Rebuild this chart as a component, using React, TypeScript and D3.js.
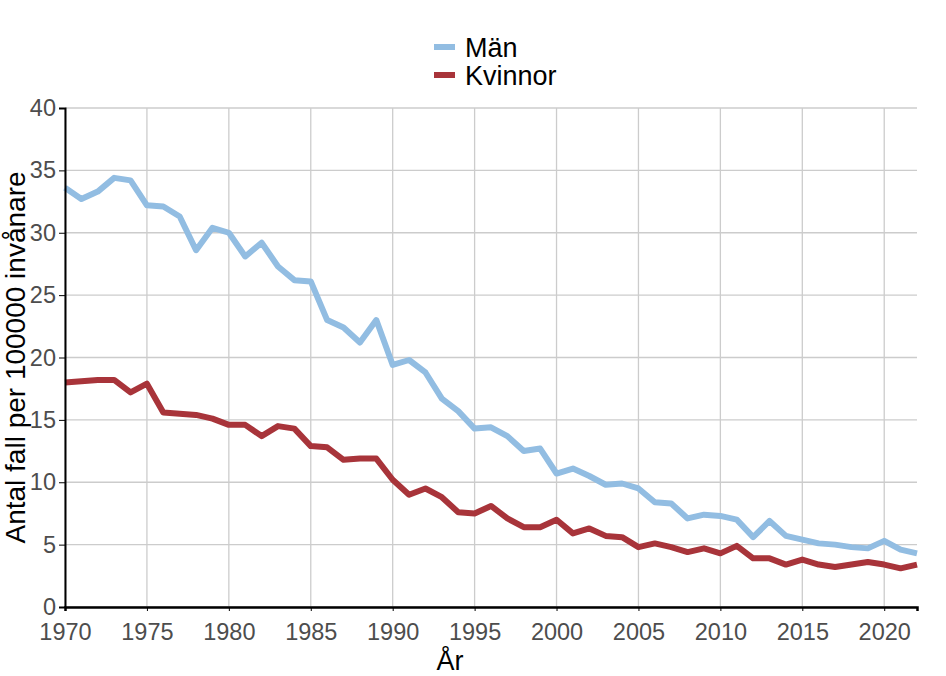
import { useRef, useEffect } from 'react'
import * as d3 from 'd3'

const years = d3.range(1970, 2023)

const man = [
  33.6, 32.7, 33.3, 34.4, 34.2, 32.2, 32.1, 31.3, 28.6, 30.4,
  30.0, 28.1, 29.2, 27.3, 26.2, 26.1, 23.0, 22.4, 21.2, 23.0,
  19.4, 19.8, 18.8, 16.7, 15.7, 14.3, 14.4, 13.7, 12.5, 12.7,
  10.7, 11.1, 10.5, 9.8, 9.9, 9.5, 8.4, 8.3, 7.1, 7.4,
  7.3, 7.0, 5.6, 6.9, 5.7, 5.4, 5.1, 5.0, 4.8, 4.7,
  5.3, 4.6, 4.3,
]

const kvinnor = [
  18.0, 18.1, 18.2, 18.2, 17.2, 17.9, 15.6, 15.5, 15.4, 15.1,
  14.6, 14.6, 13.7, 14.5, 14.3, 12.9, 12.8, 11.8, 11.9, 11.9,
  10.2, 9.0, 9.5, 8.8, 7.6, 7.5, 8.1, 7.1, 6.4, 6.4,
  7.0, 5.9, 6.3, 5.7, 5.6, 4.8, 5.1, 4.8, 4.4, 4.7,
  4.3, 4.9, 3.9, 3.9, 3.4, 3.8, 3.4, 3.2, 3.4, 3.6,
  3.4, 3.1, 3.4,
]

const xTicks = d3.range(1970, 2021, 5)
const yTicks = d3.range(0, 41, 5)

const series = [
  { name: 'Män', values: man, color: '#92bde2' },
  { name: 'Kvinnor', values: kvinnor, color: '#a8343a' },
]

const FONT = '"Liberation Sans", Arial, sans-serif'

export default function App() {
  const ref = useRef<SVGSVGElement>(null)

  useEffect(() => {
    if (!ref.current) return
    const svg = d3.select(ref.current)
    svg.selectAll('*').remove()

    const margin = { top: 108, right: 29, bottom: 69, left: 65 }
    const W = 946
    const H = 676
    const w = W - margin.left - margin.right
    const h = H - margin.top - margin.bottom

    const x = d3.scaleLinear().domain([1970, 2022]).range([0, w])
    const y = d3.scaleLinear().domain([0, 40]).range([h, 0])

    const g = svg.append('g').attr('transform', `translate(${margin.left},${margin.top})`)

    // grid
    g.append('g')
      .selectAll('line')
      .data(xTicks)
      .join('line')
      .attr('x1', (d) => x(d))
      .attr('x2', (d) => x(d))
      .attr('y1', 0)
      .attr('y2', h)
      .attr('stroke', '#cccccc')
      .attr('stroke-width', 1.3)
    g.append('g')
      .selectAll('line')
      .data(yTicks)
      .join('line')
      .attr('x1', 0)
      .attr('x2', w)
      .attr('y1', (d) => y(d))
      .attr('y2', (d) => y(d))
      .attr('stroke', '#cccccc')
      .attr('stroke-width', 1.3)

    // lines
    const line = d3
      .line<number>()
      .x((_, i) => x(years[i]))
      .y((d) => y(d))

    series.forEach((s) => {
      g.append('path')
        .datum(s.values)
        .attr('d', line)
        .attr('fill', 'none')
        .attr('stroke', s.color)
        .attr('stroke-width', 6)
        .attr('stroke-linejoin', 'round')
    })

    // axes
    const yAxis = g.append('g').call(d3.axisLeft(y).tickValues(yTicks).tickSize(6).tickPadding(3))
    yAxis.select('.domain').attr('stroke', '#000').attr('stroke-width', 2)
    yAxis.selectAll('.tick line').attr('stroke', '#000')
    yAxis.selectAll('text').attr('font-family', FONT).attr('font-size', 23.5).attr('fill', '#4d4d4d')

    const xAxis = g
      .append('g')
      .attr('transform', `translate(0,${h})`)
      .call(d3.axisBottom(x).tickValues(xTicks).tickFormat(d3.format('d')).tickSize(4).tickPadding(12))
    xAxis.select('.domain').attr('stroke', '#000').attr('stroke-width', 2.5)
    xAxis.selectAll('.tick line').attr('stroke', '#000')
    xAxis.selectAll('text').attr('font-family', FONT).attr('font-size', 23.5).attr('fill', '#4d4d4d')

    // titles
    svg
      .append('text')
      .attr('x', margin.left + x(1993.5))
      .attr('y', 670)
      .attr('text-anchor', 'middle')
      .attr('font-family', FONT)
      .attr('font-size', 27)
      .attr('fill', '#000')
      .text('År')

    svg
      .append('text')
      .attr('transform', `translate(25,${margin.top + h / 2}) rotate(-90)`)
      .attr('text-anchor', 'middle')
      .attr('font-family', FONT)
      .attr('font-size', 28)
      .attr('fill', '#000')
      .text('Antal fall per 100000 invånare')

    // legend
    const legend = svg.append('g').attr('transform', 'translate(434,47)')
    series.forEach((s, i) => {
      legend
        .append('line')
        .attr('x1', 0)
        .attr('x2', 21)
        .attr('y1', i * 28)
        .attr('y2', i * 28)
        .attr('stroke', s.color)
        .attr('stroke-width', 6)
      legend
        .append('text')
        .attr('x', 31)
        .attr('y', i * 28)
        .attr('dy', '0.36em')
        .attr('font-family', FONT)
        .attr('font-size', 27)
        .attr('fill', '#000')
        .text(s.name)
    })
  }, [])

  return (
    <svg
      ref={ref}
      width={946}
      height={676}
      style={{ position: 'absolute', left: 0, top: 0, background: '#fff' }}
    />
  )
}
